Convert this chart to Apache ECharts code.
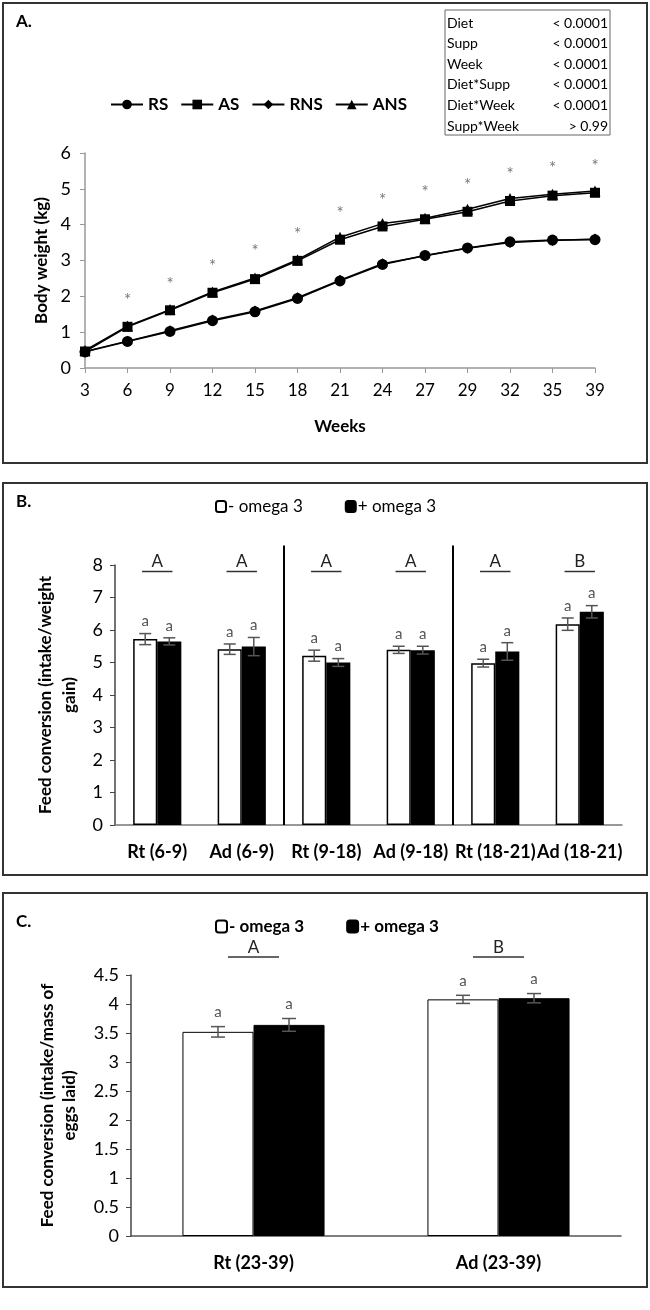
<!DOCTYPE html>
<html>
<head>
<meta charset="utf-8">
<script src="https://cdn.jsdelivr.net/npm/echarts@6/dist/echarts.min.js"></script>
<style>
html, body { margin: 0; padding: 0; background: #fff; }
#charts { width: 650px; height: 1310px; }
</style>
</head>
<body>
<div id="charts"></div>
<script>
// A. body weight by week
var weeks = ['3', '6', '9', '12', '15', '18', '21', '24', '27', '29', '32', '35', '39'];
var rsWeight  = [0.45, 0.74, 1.02, 1.32, 1.57, 1.94, 2.43, 2.89, 3.14, 3.35, 3.52, 3.57, 3.58];
var asWeight  = [0.46, 1.15, 1.61, 2.10, 2.48, 2.99, 3.58, 3.95, 4.15, 4.36, 4.66, 4.81, 4.89];
var rnsWeight = [0.46, 0.75, 1.04, 1.34, 1.59, 1.96, 2.45, 2.91, 3.13, 3.34, 3.50, 3.56, 3.60];
var ansWeight = [0.49, 1.17, 1.63, 2.12, 2.51, 3.02, 3.65, 4.03, 4.18, 4.43, 4.73, 4.85, 4.94];
var starPos   = [null, 1.97, 2.41, 2.92, 3.34, 3.82, 4.39, 4.75, 4.98, 5.17, 5.47, 5.64, 5.72];
var pvTerms  = ['Diet', 'Supp', 'Week', 'Diet*Supp', 'Diet*Week', 'Supp*Week'];
var pvValues = ['< 0.0001', '< 0.0001', '< 0.0001', '< 0.0001', '< 0.0001', '> 0.99'];

// B. feed conversion (intake/weight gain)
var fcCats = ['Rt (6-9)', 'Ad (6-9)', 'Rt (9-18)', 'Ad (9-18)', 'Rt (18-21)', 'Ad (18-21)'];
var fcMinus    = [5.72, 5.41, 5.21, 5.39, 4.98, 6.18];
var fcMinusErr = [0.17, 0.16, 0.17, 0.11, 0.12, 0.19];
var fcPlus     = [5.65, 5.49, 5.00, 5.38, 5.34, 6.56];
var fcPlusErr  = [0.11, 0.28, 0.12, 0.12, 0.27, 0.19];
var fcMinusSig = ['a', 'a', 'a', 'a', 'a', 'a'];
var fcPlusSig  = ['a', 'a', 'a', 'a', 'a', 'a'];
var fcGroups   = ['A', 'A', 'A', 'A', 'A', 'B'];
var fcSplits   = [2, 4];

// C. feed conversion (intake/mass of eggs laid)
var eggCats = ['Rt (23-39)', 'Ad (23-39)'];
var eggMinus    = [3.52, 4.08];
var eggMinusErr = [0.09, 0.07];
var eggPlus     = [3.64, 4.10];
var eggPlusErr  = [0.11, 0.08];
var eggMinusSig = ['a', 'a'];
var eggPlusSig  = ['a', 'a'];
var eggGroups   = ['A', 'B'];

var font = 'Lato, "Open Sans", sans-serif';
var myChart = echarts.init(document.getElementById('charts'));

// error bar + letter drawn beside each bar
function errorBars(values, errs, sigs, side, gapRatio, cap, sigGap) {
    return function (params, api) {
        var i = params.dataIndex;
        var band = api.size([1, 0])[0];
        var barW = band * (1 - gapRatio) / 2;
        var x = api.coord([i, values[i]])[0] + side * barW / 2;
        var top = api.coord([i, values[i] + errs[i]])[1];
        var bot = api.coord([i, values[i] - errs[i]])[1];
        var st = { stroke: '#555', lineWidth: 1.5 };
        return {
            type: 'group',
            children: [
                { type: 'line', shape: { x1: x, y1: top, x2: x, y2: bot }, style: st },
                { type: 'line', shape: { x1: x - cap, y1: top, x2: x + cap, y2: top }, style: st },
                { type: 'line', shape: { x1: x - cap, y1: bot, x2: x + cap, y2: bot }, style: st },
                { type: 'text', x: x, y: top - sigGap, style: { text: sigs[i], fill: '#555', font: '15px ' + font, align: 'center', verticalAlign: 'middle' } }
            ]
        };
    };
}

// group letter with an underline
function groupLetters(letters, letterY, lineY, halfW) {
    return function (params, api) {
        var i = params.dataIndex;
        var p = api.coord([i + 0.5, letterY]);
        var l1 = api.coord([i + 0.5 - halfW, lineY]);
        var l2 = api.coord([i + 0.5 + halfW, lineY]);
        return {
            type: 'group',
            children: [
                { type: 'text', x: p[0], y: p[1], style: { text: letters[i], fill: '#222', font: '17px ' + font, align: 'center', verticalAlign: 'middle' } },
                { type: 'line', shape: { x1: l1[0], y1: l1[1], x2: l2[0], y2: l2[1] }, style: { stroke: '#333', lineWidth: 1.5 } }
            ]
        };
    };
}

function idx(arr) { return arr.map(function (v, i) { return i; }); }

var axisLabelStyle = { color: '#000', fontFamily: font, fontSize: 18 };
var axisNameStyle = { color: '#000', fontFamily: font, fontSize: 17, fontWeight: 'bold' };

var graphics = [
    { type: 'rect', shape: { x: 3, y: 3, width: 644, height: 460 }, style: { fill: 'none', stroke: '#333', lineWidth: 2 } },
    { type: 'rect', shape: { x: 3, y: 483, width: 644, height: 392 }, style: { fill: 'none', stroke: '#333', lineWidth: 2 } },
    { type: 'rect', shape: { x: 3, y: 893, width: 644, height: 394 }, style: { fill: 'none', stroke: '#333', lineWidth: 2 } },
    { type: 'text', left: 16, top: 13, style: { text: 'A.', font: 'bold 17px ' + font, fill: '#000' } },
    { type: 'text', left: 16, top: 493, style: { text: 'B.', font: 'bold 17px ' + font, fill: '#000' } },
    { type: 'text', left: 16, top: 913, style: { text: 'C.', font: 'bold 17px ' + font, fill: '#000' } },
    { type: 'rect', shape: { x: 445, y: 10, width: 165, height: 125 }, style: { fill: 'none', stroke: '#666', lineWidth: 1 } }
];
pvTerms.forEach(function (t, i) {
    graphics.push({ type: 'text', x: 447, y: 23 + i * 20.6, style: { text: t, font: '14px ' + font, fill: '#000', verticalAlign: 'middle' } });
    graphics.push({ type: 'text', x: 608, y: 23 + i * 20.6, style: { text: pvValues[i], font: '14px ' + font, fill: '#000', align: 'right', verticalAlign: 'middle' } });
});

var option = {
    animation: false,
    textStyle: { fontFamily: font },
    graphic: graphics,
    legend: [
        {
            left: 105, top: 91,
            data: ['RS', 'AS', 'RNS', 'ANS'],
            itemWidth: 32, itemHeight: 12, itemGap: 12,
            textStyle: { fontFamily: font, fontSize: 17, fontWeight: 'bold', color: '#000' }
        },
        {
            left: 210, top: 493,
            data: ['- omega 3', '+ omega 3'],
            itemWidth: 10, itemHeight: 11, itemGap: 42,
            textStyle: { fontFamily: font, fontSize: 17, color: '#000', padding: [0, 0, 0, -3] }
        },
        {
            left: 210, top: 913,
            data: ['- omega 3', '+ omega 3'],
            itemWidth: 11, itemHeight: 12, itemGap: 42,
            textStyle: { fontFamily: font, fontSize: 17, fontWeight: 'bold', color: '#000', padding: [0, 0, 0, -3] }
        }
    ],
    grid: [
        { left: 85, top: 153, width: 510, height: 215, containLabel: false, outerBoundsMode: 'none' },
        { left: 115, top: 565, width: 507, height: 260, containLabel: false, outerBoundsMode: 'none' },
        { left: 131, top: 975, width: 490, height: 261, containLabel: false, outerBoundsMode: 'none' }
    ],
    xAxis: [
        {
            gridIndex: 0, type: 'category', data: weeks, boundaryGap: false,
            name: 'Weeks', nameLocation: 'middle', nameGap: 50, nameTextStyle: axisNameStyle,
            axisLine: { show: true, lineStyle: { color: '#999', width: 1.5 } },
            axisTick: { show: true, length: 5, lineStyle: { color: '#999' } },
            axisLabel: Object.assign({ margin: 14, interval: 0 }, axisLabelStyle, { fontSize: 17 }),
            splitLine: { show: false }
        },
        {
            gridIndex: 1, type: 'category', data: fcCats,
            axisLine: { show: true, lineStyle: { color: '#777', width: 1.5 } },
            axisTick: { show: false },
            axisLabel: { margin: 18, interval: 0, color: '#000', fontFamily: font, fontSize: 18, fontWeight: 'bold' },
            splitLine: { show: false }
        },
        {
            gridIndex: 2, type: 'category', data: eggCats,
            axisLine: { show: true, lineStyle: { color: '#555', width: 1.5 } },
            axisTick: { show: false },
            axisLabel: { margin: 18, interval: 0, color: '#000', fontFamily: font, fontSize: 18, fontWeight: 'bold' },
            splitLine: { show: false }
        },
        { gridIndex: 1, type: 'value', min: 0, max: 6, show: false },
        { gridIndex: 2, type: 'value', min: 0, max: 2, show: false }
    ],
    yAxis: [
        {
            gridIndex: 0, type: 'value', min: 0, max: 6, interval: 1,
            name: 'Body weight (kg)', nameLocation: 'middle', nameGap: 35, nameTextStyle: axisNameStyle,
            axisLine: { show: true, lineStyle: { color: '#999', width: 1.5 } },
            axisTick: { show: true, length: 5, lineStyle: { color: '#999' } },
            axisLabel: Object.assign({ margin: 14 }, axisLabelStyle),
            splitLine: { show: false }
        },
        {
            gridIndex: 1, type: 'value', min: 0, max: 8, interval: 1,
            name: 'Feed conversion (intake/weight\ngain)', nameLocation: 'middle', nameGap: 32,
            nameTextStyle: Object.assign({ lineHeight: 24 }, axisNameStyle),
            axisLine: { show: true, lineStyle: { color: '#444', width: 1.5 } },
            axisTick: { show: true, length: 5, lineStyle: { color: '#444' } },
            axisLabel: Object.assign({ margin: 12 }, axisLabelStyle),
            splitLine: { show: false }
        },
        {
            gridIndex: 2, type: 'value', min: 0, max: 4.5, interval: 0.5,
            name: 'Feed conversion (intake/mass of\neggs laid)', nameLocation: 'middle', nameGap: 50,
            nameTextStyle: Object.assign({ lineHeight: 22 }, axisNameStyle),
            axisLine: { show: true, lineStyle: { color: '#444', width: 1.5 } },
            axisTick: { show: true, length: 5, lineStyle: { color: '#444' } },
            axisLabel: Object.assign({ margin: 12 }, axisLabelStyle),
            splitLine: { show: false }
        }
    ],
    series: [
        { name: 'RNS', type: 'line', xAxisIndex: 0, yAxisIndex: 0, data: rnsWeight, symbol: 'diamond', symbolSize: 11, z: 2,
          itemStyle: { color: '#000' }, lineStyle: { color: '#000', width: 1.5 } },
        { name: 'ANS', type: 'line', xAxisIndex: 0, yAxisIndex: 0, data: ansWeight, symbol: 'triangle', symbolSize: 11, z: 2,
          itemStyle: { color: '#000' }, lineStyle: { color: '#000', width: 1.5 } },
        { name: 'RS', type: 'line', xAxisIndex: 0, yAxisIndex: 0, data: rsWeight, symbol: 'circle', symbolSize: 11, z: 3,
          itemStyle: { color: '#000' }, lineStyle: { color: '#000', width: 1.5 } },
        { name: 'AS', type: 'line', xAxisIndex: 0, yAxisIndex: 0, data: asWeight, symbol: 'rect', symbolSize: 10, z: 3,
          itemStyle: { color: '#000' }, lineStyle: { color: '#000', width: 1.5 } },
        { name: 'sig', type: 'scatter', xAxisIndex: 0, yAxisIndex: 0, data: starPos, symbolSize: 1, silent: true,
          itemStyle: { color: 'rgba(0,0,0,0)' },
          label: { show: true, position: 'inside', formatter: '*', color: '#555', fontSize: 17, fontFamily: font, offset: [0, 3] } },

        { name: '- omega 3', type: 'bar', xAxisIndex: 1, yAxisIndex: 1, data: fcMinus, barGap: '0%', barCategoryGap: '43%',
          itemStyle: { color: '#fff', borderColor: '#000', borderWidth: 1.5 } },
        { name: '+ omega 3', type: 'bar', xAxisIndex: 1, yAxisIndex: 1, data: fcPlus,
          itemStyle: { color: '#000', borderColor: '#000', borderWidth: 1.5 } },
        { type: 'custom', xAxisIndex: 1, yAxisIndex: 1, data: idx(fcCats), z: 5,
          renderItem: errorBars(fcMinus, fcMinusErr, fcMinusSig, -1, 0.43, 6, 12) },
        { type: 'custom', xAxisIndex: 1, yAxisIndex: 1, data: idx(fcCats), z: 5,
          renderItem: errorBars(fcPlus, fcPlusErr, fcPlusSig, 1, 0.43, 6, 12) },
        { type: 'custom', xAxisIndex: 3, yAxisIndex: 1, data: idx(fcCats), z: 5, clip: false,
          renderItem: groupLetters(fcGroups, 8.12, 7.8, 0.18) },
        { type: 'custom', xAxisIndex: 3, yAxisIndex: 1, data: fcSplits, z: 5, clip: false,
          renderItem: function (params, api) {
              var t = api.coord([fcSplits[params.dataIndex], 8.6]);
              var b = api.coord([fcSplits[params.dataIndex], 0]);
              return { type: 'line', shape: { x1: t[0], y1: t[1], x2: b[0], y2: b[1] }, style: { stroke: '#000', lineWidth: 2 } };
          } },

        { name: '- omega 3', type: 'bar', xAxisIndex: 2, yAxisIndex: 2, data: eggMinus, barGap: '0%', barCategoryGap: '42%',
          itemStyle: { color: '#fff', borderColor: '#000', borderWidth: 1 } },
        { name: '+ omega 3', type: 'bar', xAxisIndex: 2, yAxisIndex: 2, data: eggPlus,
          itemStyle: { color: '#000', borderColor: '#000', borderWidth: 1 } },
        { type: 'custom', xAxisIndex: 2, yAxisIndex: 2, data: idx(eggCats), z: 5,
          renderItem: errorBars(eggMinus, eggMinusErr, eggMinusSig, -1, 0.42, 7, 14) },
        { type: 'custom', xAxisIndex: 2, yAxisIndex: 2, data: idx(eggCats), z: 5,
          renderItem: errorBars(eggPlus, eggPlusErr, eggPlusSig, 1, 0.42, 7, 14) },
        { type: 'custom', xAxisIndex: 4, yAxisIndex: 2, data: idx(eggCats), z: 5, clip: false,
          renderItem: groupLetters(eggGroups, 4.97, 4.81, 0.104) }
    ]
};
myChart.setOption(option);
</script>
</body>
</html>
